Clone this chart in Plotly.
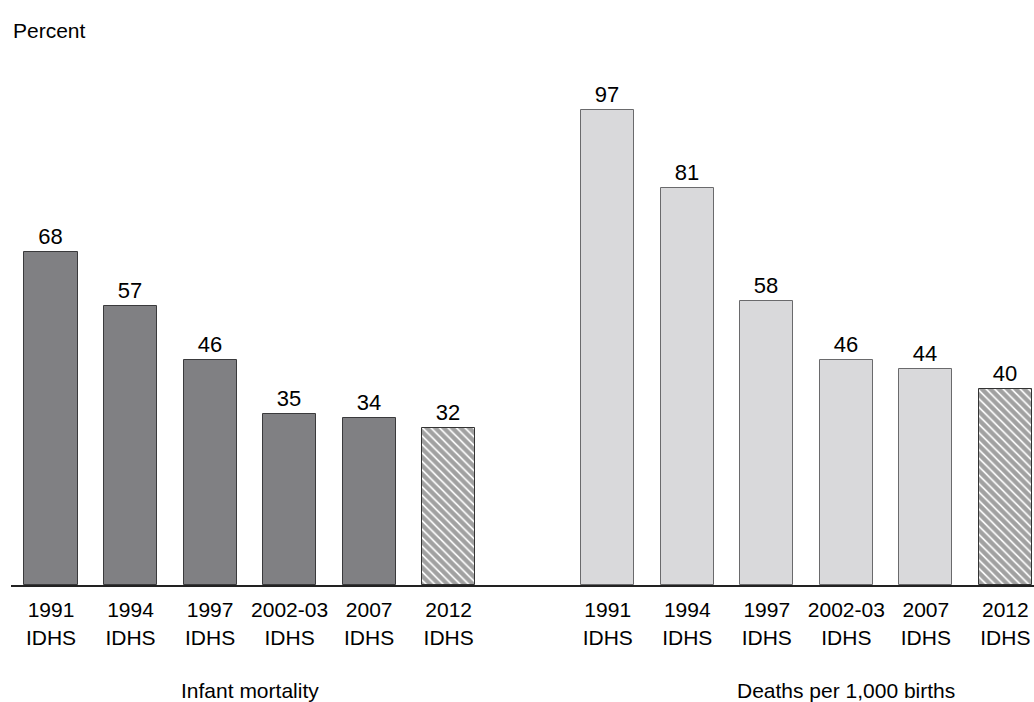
import plotly.graph_objects as go

# Survey rounds shown under each bar
surveys = ["1991<br>IDHS", "1994<br>IDHS", "1997<br>IDHS", "2002-03<br>IDHS", "2007<br>IDHS", "2012<br>IDHS"]
infant_mortality = [68, 57, 46, 35, 34, 32]
under5_mortality = [97, 81, 58, 46, 44, 40]
group_titles = ["Infant mortality", "Deaths per 1,000 births"]

# Slot positions: first group 0..5, gap, second group 7..12
pos_a = list(range(0, 6))
pos_b = list(range(7, 13))

FONT = "Liberation Sans, Arial, sans-serif"

def styles(base):
    colors = [base] * 5 + ["white"]
    shapes = [""] * 5 + ["\\"]
    return colors, shapes

fig = go.Figure()
for pos, vals, base, line in [(pos_a, infant_mortality, "#808083", "#3a3a3c"),
                              (pos_b, under5_mortality, "#d9d9db", "#6a6a6c")]:
    colors, shapes = styles(base)
    fig.add_trace(go.Bar(
        x=pos, y=vals, width=0.667,
        marker=dict(color=colors, line=dict(color=[line] * 5 + ["#333333"], width=1),
                    pattern=dict(shape=shapes, fgcolor="#000000", bgcolor="white",
                                 size=6, solidity=0.72)),
        text=[str(v) for v in vals], textposition="outside",
        textfont=dict(size=22, color="black", family=FONT),
        cliponaxis=False, showlegend=False, hoverinfo="skip",
    ))

fig.update_layout(
    width=1034, height=702,
    margin=dict(l=11, r=0, t=46, b=117),
    paper_bgcolor="white", plot_bgcolor="white",
    font=dict(family=FONT, color="black", size=21),
    bargap=0,
    xaxis=dict(range=[-0.503, 12.36], tickvals=pos_a + pos_b, ticktext=surveys + surveys,
               showgrid=False, zeroline=False, showline=True, linecolor="#222222", linewidth=2,
               ticks="", ticklabelstandoff=5, tickfont=dict(size=21), fixedrange=True),
    yaxis=dict(range=[0, 110], visible=False, fixedrange=True),
    annotations=[
        dict(text="Percent", x=0, y=1, xref="paper", yref="paper", xanchor="left", yanchor="middle",
             xshift=0, yshift=16, showarrow=False, font=dict(size=21)),
        dict(text=group_titles[0], x=2.5, y=0, xref="x", yref="paper", xanchor="center",
             yanchor="middle", yshift=-105, showarrow=False, font=dict(size=21)),
        dict(text=group_titles[1], x=10, y=0, xref="x", yref="paper", xanchor="center",
             yanchor="middle", yshift=-105, showarrow=False, font=dict(size=21)),
    ],
)

fig.write_html("out.html")
